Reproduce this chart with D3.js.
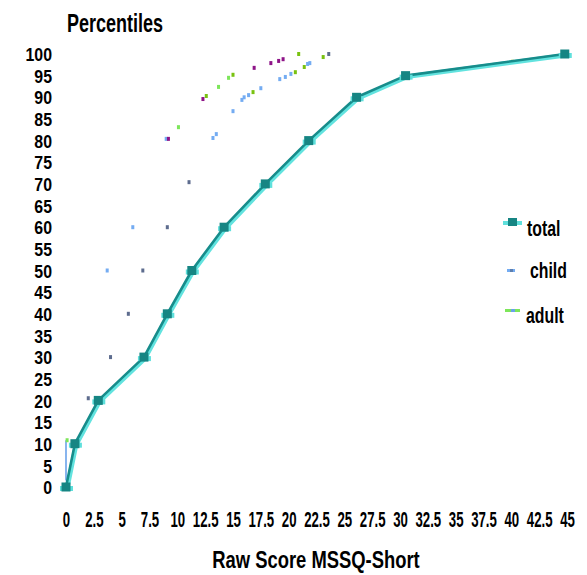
<!DOCTYPE html>
<html><head><meta charset="utf-8">
<script src="https://cdn.jsdelivr.net/npm/d3@7"></script>
<style>
html,body{margin:0;padding:0;background:#fff;}
svg{display:block;}
text{font-family:"Liberation Sans",Arial,sans-serif;font-weight:bold;fill:#000;}
</style></head>
<body>
<script>
// ---- data ----
const yTicks = [0,5,10,15,20,25,30,35,40,45,50,55,60,65,70,75,80,85,90,95,100];
const xTicks = [0,2.5,5,7.5,10,12.5,15,17.5,20,22.5,25,27.5,30,32.5,35,37.5,40,42.5,45];
const xTickLabels = ["0","2.5","5","7.5","10","12.5","15","17.5","20","22.5","25","27.5","30","32.5","35","37.5","40","42.5","45"];

const totalScore = [0, 0.8, 2.9, 7, 9.1, 11.3, 14.2, 17.9, 21.8, 26.1, 30.5, 44.8];
const totalPct   = [0, 10, 20, 30, 40, 50, 60, 70, 80, 90, 95, 100];

// child (light blue points)
const childScore = [3.7, 6.0, 9.0, 13.2, 13.5, 15.0, 15.8, 16.0, 16.4, 17.5, 19.2, 19.7, 20.2, 21.7, 21.9];
const childPct   = [50, 60, 80.4, 80.6, 81.5, 86.8, 89.4, 90.0, 90.5, 92.1, 94.2, 94.7, 95.4, 97.7, 97.9];
// child start segment (score 0)
const childLineScore = [0, 0];
const childLinePct   = [1.5, 10.8];
// child (dark points)
const child2Score = [2.0, 4.0, 5.6, 6.9, 9.1, 11.05, 23.6];
const child2Pct   = [20.5, 30, 40, 50, 60, 70.4, 100];

// adult (light green points)
const adultScore = [10.1, 13.7, 14.6, 0.1];
const adultPct   = [83.1, 92.4, 94.5, 10.8];
// adult (green points)
const adult2Score = [12.6, 15.0, 16.8, 20.6, 21.4, 20.9, 23.1, 40.1];
const adult2Pct   = [90.3, 95.2, 91.2, 95.8, 97.0, 100, 99.3, 98.2];
// adult (purple points)
const adult3Score = [9.2, 12.3, 16.9, 18.4, 19.1, 19.5];
const adult3Pct   = [80.4, 89.6, 96.8, 97.9, 98.4, 98.8];

const legendLabels = ["total","child","adult"];

// ---- chart ----
const W = 587, H = 575;
const svg = d3.select("body").append("svg").attr("width", W).attr("height", H);

const x = d3.scaleLinear().domain([0,45]).range([66,567]);
const y = d3.scaleLinear().domain([0,100]).range([487,54]);

// y axis
const gy = svg.append("g").attr("transform","translate(52,0)")
  .call(d3.axisLeft(y).tickValues(yTicks).tickSize(0).tickPadding(0).tickFormat(d=>String(d)));
gy.select(".domain").remove();
gy.selectAll("text").style("font-size","18.5px").attr("fill","#000").attr("dy","0.36em")
  .attr("transform","scale(0.86,1)");

// x axis
const gx = svg.append("g").attr("transform","translate(0,511)")
  .call(d3.axisBottom(x).tickValues(xTicks).tickSize(0).tickPadding(0).tickFormat((d,i)=>xTickLabels[i]));
gx.select(".domain").remove();
gx.selectAll("text").style("font-size","22px").attr("fill","#000").attr("dy","0.72em")
  .attr("transform","scale(0.6,1)");

// titles
svg.append("text").attr("transform","translate(67,32) scale(0.72,1)")
  .style("font-size","25px").text("Percentiles");
svg.append("text").attr("transform","translate(316,568) scale(0.8,1)").attr("text-anchor","middle")
  .style("font-size","23px").text("Raw Score MSSQ-Short");

// child line segment at score 0
const line = d3.line().x(d=>x(d[0])).y(d=>y(d[1]));
svg.append("path").datum(d3.zip(childLineScore, childLinePct))
  .attr("d", line).attr("fill","none").attr("stroke","#6aa2ea").attr("stroke-width",1.6);

// dot helper
function dots(sx, sy, color){
  svg.append("g").selectAll("rect").data(d3.zip(sx, sy)).join("rect")
    .attr("x", d=>x(d[0])-1.5).attr("y", d=>y(d[1])-2)
    .attr("width",3).attr("height",4).attr("fill",color);
}
dots(childScore, childPct, "#74acf2");
dots(child2Score, child2Pct, "#5d6c8e");
dots(adultScore, adultPct, "#7de65a");
dots(adult2Score, adult2Pct, "#79c210");
dots(adult3Score, adult3Pct, "#8e1488");

// total line
const totalData = d3.zip(totalScore, totalPct);
svg.append("path").datum(totalData).attr("d", line)
  .attr("fill","none").attr("stroke","#62e3df").attr("stroke-width",4.5)
  .attr("transform","translate(1.2,1.2)").attr("stroke-linejoin","round");
svg.append("path").datum(totalData).attr("d", line)
  .attr("fill","none").attr("stroke","#178c8b").attr("stroke-width",2.6).attr("stroke-linejoin","round");

const mk = svg.append("g").selectAll("g").data(totalData).join("g")
  .attr("transform", d=>`translate(${x(d[0])},${y(d[1])})`);
mk.append("rect").attr("x",-6).attr("y",-1).attr("width",13).attr("height",5).attr("fill","#5fe0dc");
mk.append("rect").attr("x",-4.5).attr("y",-4.5).attr("width",9).attr("height",9).attr("fill","#168583");

// legend
const lg = svg.append("g");
lg.append("rect").attr("x",503).attr("y",221).attr("width",19).attr("height",4).attr("fill","#5fe0dc");
lg.append("rect").attr("x",508).attr("y",218).attr("width",9).attr("height",8).attr("fill","#168583");
lg.append("rect").attr("x",507).attr("y",269).attr("width",8).attr("height",3).attr("fill","#74acf2");
lg.append("rect").attr("x",510).attr("y",269).attr("width",3).attr("height",3).attr("fill","#5d7fb0");
lg.append("rect").attr("x",505).attr("y",309).attr("width",15).attr("height",3).attr("fill","#7de65a");
lg.append("rect").attr("x",511).attr("y",309).attr("width",4).attr("height",3).attr("fill","#6aa2ea");
lg.selectAll("text").data(legendLabels).join("text")
  .attr("transform",(d,i)=>`translate(${[527,530,526][i]},${[236,278,323][i]}) scale(0.72,1)`)
  .style("font-size","22px").text(d=>d);
</script>
</body></html>
